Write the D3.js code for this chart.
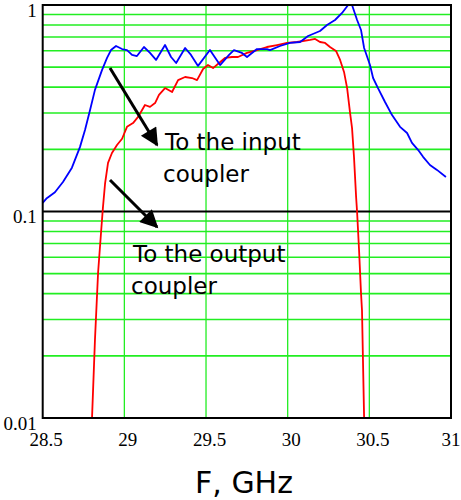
<!DOCTYPE html>
<html>
<head>
<meta charset="utf-8">
<script src="https://cdn.jsdelivr.net/npm/d3@7"></script>
<style>
  html, body { margin: 0; padding: 0; background: #fff; }
  svg { display: block; }
</style>
</head>
<body>
<script>
// ---------- data ----------
const xTicks = [28.5, 29, 29.5, 30, 30.5, 31];
const xTickLabels = ["28.5", "29", "29.5", "30", "30.5", "31"];
const yTicks = [0.01, 0.1, 1];
const yTickLabels = ["0.01", "0.1", "1"];
const xTitle = "F, GHz";

// "To the input coupler" response (blue)
const inputFreq = [28.500, 28.525, 28.575, 28.624, 28.679, 28.728, 28.759, 28.790, 28.820, 28.863,
  28.894, 28.918, 28.949, 28.986, 29.016, 29.047, 29.077, 29.120, 29.157, 29.194,
  29.249, 29.286, 29.317, 29.372, 29.408, 29.451, 29.524, 29.586, 29.641, 29.671,
  29.720, 29.751, 29.812, 29.873, 29.892, 29.953, 30.014, 30.076, 30.125, 30.198,
  30.241, 30.290, 30.333, 30.370, 30.394, 30.425, 30.449, 30.468, 30.504, 30.523,
  30.553, 30.596, 30.639, 30.688, 30.731, 30.761, 30.798, 30.829, 30.871, 30.914, 30.969];
const inputVal = [0.110, 0.116, 0.124, 0.139, 0.163, 0.205, 0.248, 0.310, 0.388, 0.484,
  0.554, 0.605, 0.633, 0.612, 0.605, 0.573, 0.566, 0.626, 0.586, 0.542,
  0.640, 0.560, 0.524, 0.619, 0.573, 0.507, 0.605, 0.512, 0.573, 0.605,
  0.586, 0.560, 0.612, 0.612, 0.605, 0.633, 0.655, 0.662, 0.708, 0.748,
  0.800, 0.846, 0.915, 1.000, 1.000, 0.846, 0.757, 0.619, 0.512, 0.443,
  0.396, 0.339, 0.293, 0.257, 0.240, 0.215, 0.199, 0.184, 0.168, 0.159, 0.147];

// "To the output coupler" response (red)
const outputFreq = [28.802, 28.820, 28.839, 28.857, 28.869, 28.882, 28.900, 28.924, 28.955, 28.986,
  29.016, 29.053, 29.084, 29.126, 29.157, 29.188, 29.212, 29.249, 29.292, 29.329,
  29.372, 29.414, 29.445, 29.482, 29.512, 29.543, 29.580, 29.616, 29.659, 29.696,
  29.751, 29.812, 29.873, 29.935, 29.996, 30.057, 30.137, 30.168, 30.198, 30.229,
  30.259, 30.296, 30.321, 30.345, 30.364, 30.382, 30.394, 30.406, 30.419, 30.425,
  30.437, 30.449, 30.455, 30.468];
const outputVal = [0.010, 0.0239, 0.0504, 0.0787, 0.105, 0.137, 0.172, 0.192, 0.210, 0.225,
  0.257, 0.268, 0.287, 0.328, 0.321, 0.335, 0.367, 0.396, 0.379, 0.433,
  0.448, 0.443, 0.433, 0.490, 0.512, 0.495, 0.524, 0.554, 0.560, 0.560,
  0.586, 0.605, 0.626, 0.640, 0.655, 0.662, 0.677, 0.685, 0.662, 0.655,
  0.626, 0.599, 0.542, 0.474, 0.396, 0.300, 0.254, 0.184, 0.1175, 0.0995,
  0.0651, 0.0403, 0.0333, 0.010];

// annotations: text lines, arrow tail/tip and text anchor in data units
const annoLines1 = ["To the input", "coupler"];
const annoLines2 = ["To the output", "coupler"];
const arrow1 = [[28.912, 0.495], [29.200, 0.210]];
const arrow2 = [[28.912, 0.142], [29.200, 0.0841]];
const annoPos1 = [29.249, 0.199];
const annoPos2 = [29.053, 0.0569];

// ---------- layout ----------
const W = 461, H = 500;
const svg = d3.select("body").append("svg").attr("width", W).attr("height", H);

const x = d3.scaleLinear().domain([28.5, 31]).range([42.7, 451]);
const y = d3.scaleLog().domain([0.01, 1]).range([418, 5]);

const gridColor = "#22ee22";

// horizontal minor gridlines
const yGrid = y.ticks().filter(v => !yTicks.some(t => Math.abs(t - v) < 1e-9));
svg.append("g").selectAll("line").data(yGrid).join("line")
  .attr("x1", x(28.5)).attr("x2", x(31))
  .attr("y1", d => y(d)).attr("y2", d => y(d))
  .attr("stroke", gridColor).attr("stroke-width", 1.6);

// vertical gridlines
svg.append("g").selectAll("line").data(xTicks.slice(1, -1)).join("line")
  .attr("x1", d => x(d)).attr("x2", d => x(d))
  .attr("y1", y(1)).attr("y2", y(0.01))
  .attr("stroke", gridColor).attr("stroke-width", 1.3);

// 0.1 line black
svg.append("line")
  .attr("x1", x(28.5)).attr("x2", x(31))
  .attr("y1", y(0.1)).attr("y2", y(0.1))
  .attr("stroke", "#000").attr("stroke-width", 1.8);

// curves
const line = d3.line().x(d => x(d[0])).y(d => y(d[1]));
const inputData = inputFreq.map((f, i) => [f, inputVal[i]]);
const outputData = outputFreq.map((f, i) => [f, outputVal[i]]);

svg.append("path").datum(outputData).attr("d", line)
  .attr("fill", "none").attr("stroke", "#ff0000").attr("stroke-width", 1.8)
  .attr("stroke-linejoin", "round");
svg.append("path").datum(inputData).attr("d", line)
  .attr("fill", "none").attr("stroke", "#0000ff").attr("stroke-width", 1.8)
  .attr("stroke-linejoin", "round");

// frame
svg.append("rect")
  .attr("x", x(28.5)).attr("y", y(1))
  .attr("width", x(31) - x(28.5)).attr("height", y(0.01) - y(1))
  .attr("fill", "none").attr("stroke", "#000").attr("stroke-width", 2);

// axes (labels only)
const fmtX = d3.scaleOrdinal().domain(xTicks).range(xTickLabels);
const fmtY = d3.scaleOrdinal().domain(yTicks).range(yTickLabels);

const gx = svg.append("g").attr("transform", `translate(3,${y(0.01)})`)
  .call(d3.axisBottom(x).tickValues(xTicks).tickFormat(d => fmtX(d)).tickSize(0).tickPadding(15));
const gy = svg.append("g").attr("transform", `translate(${x(28.5)},0)`)
  .call(d3.axisLeft(y).tickValues(yTicks).tickFormat(d => fmtY(d)).tickSize(0).tickPadding(6));
[gx, gy].forEach(g => {
  g.select(".domain").remove();
  g.selectAll("text").attr("font-family", "'Liberation Serif', 'Times New Roman', serif")
    .attr("font-size", 19).attr("fill", "#000");
});
gy.selectAll("text").attr("dy", "0.6em");
// keep the last x label inside the window
gx.selectAll(".tick").filter(d => d === 31).select("text").attr("text-anchor", "end").attr("x", 461 - 3 - x(31) - 1);

// axis title
svg.append("text")
  .attr("x", 244).attr("y", 493)
  .attr("text-anchor", "middle")
  .attr("font-family", "'DejaVu Sans', sans-serif").attr("font-size", 30)
  .attr("fill", "#000").text(xTitle);

// arrows
const defs = svg.append("defs");
defs.append("marker").attr("id", "ah")
  .attr("viewBox", "0 0 10 10").attr("refX", 9).attr("refY", 5)
  .attr("markerWidth", 7).attr("markerHeight", 6).attr("orient", "auto")
  .attr("markerUnits", "strokeWidth")
  .append("path").attr("d", "M0,0 L10,5 L0,10 Z").attr("fill", "#000");

[arrow1, arrow2].forEach(a => {
  svg.append("line")
    .attr("x1", x(a[0][0])).attr("y1", y(a[0][1]))
    .attr("x2", x(a[1][0])).attr("y2", y(a[1][1]))
    .attr("stroke", "#000").attr("stroke-width", 3)
    .attr("marker-end", "url(#ah)");
});

// annotation text
[[annoLines1, annoPos1], [annoLines2, annoPos2]].forEach(([lines, p]) => {
  const t = svg.append("text")
    .attr("x", x(p[0])).attr("y", y(p[1]))
    .attr("font-family", "'DejaVu Sans', sans-serif").attr("font-size", 23)
    .attr("fill", "#000");
  lines.forEach((s, i) => {
    t.append("tspan").attr("x", x(p[0]) - (i ? 2 : 0)).attr("dy", i ? 32 : 0).text(s);
  });
});
</script>
</body>
</html>
